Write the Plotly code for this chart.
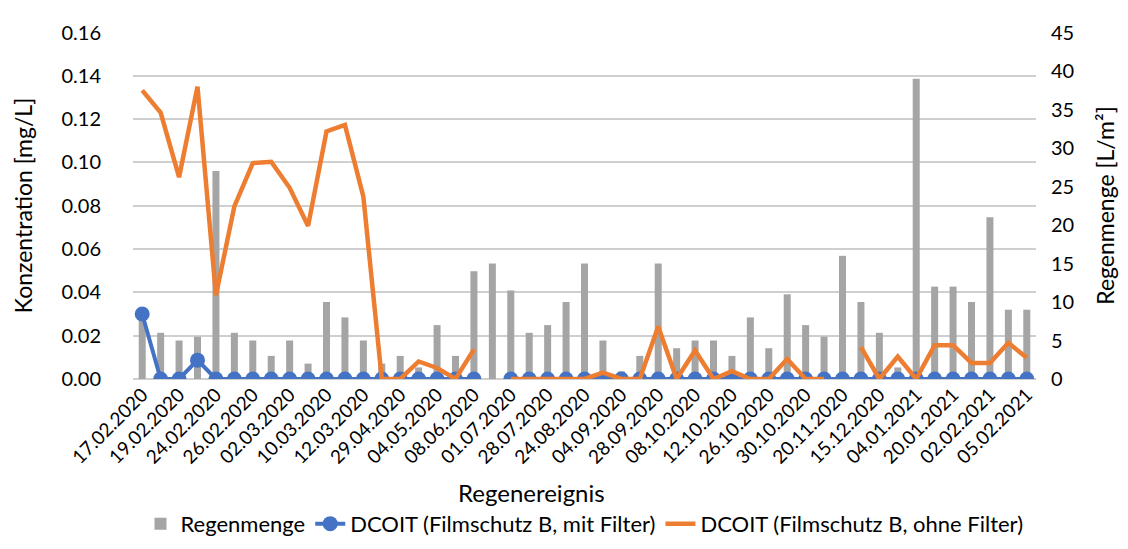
import plotly.graph_objects as go

# Category index (49 rain events); only every second event is labelled on the axis
event_index = list(range(49))
tick_index = list(range(0, 49, 2))
tick_labels = ["17.02.2020", "19.02.2020", "24.02.2020", "26.02.2020", "02.03.2020",
               "10.03.2020", "12.03.2020", "29.04.2020", "04.05.2020", "08.06.2020",
               "01.07.2020", "28.07.2020", "24.08.2020", "04.09.2020", "28.09.2020",
               "08.10.2020", "12.10.2020", "26.10.2020", "30.10.2020", "20.11.2020",
               "15.12.2020", "04.01.2021", "20.01.2021", "02.02.2021", "05.02.2021"]

regenmenge = [8, 6, 5, 5.5, 27, 6, 5, 3, 5, 2,
              10, 8, 5, 2, 3, 1.5, 7, 3, 14, 15,
              11.5, 6, 7, 10, 15, 5, 1, 3, 15, 4,
              5, 5, 3, 8, 4, 11, 7, 5.5, 16, 10,
              6, 1.5, 39, 12, 12, 10, 21, 9, 9]

dcoit_mit = [0.030, 0, 0, 0.0087, 0, 0, 0, 0, 0, 0,
             0, 0, 0, 0, 0, 0, 0, 0, 0, None,
             0, 0, 0, 0, 0, 0, 0, 0, 0, 0,
             0, 0, 0, 0, 0, 0, 0, 0, 0, 0,
             0, 0, 0, 0, 0, 0, 0, 0, 0]

dcoit_ohne = [0.1333, 0.1230, 0.0932, 0.1350, 0.0387, 0.0797, 0.0997, 0.1003, 0.0883, 0.0707,
              0.1143, 0.1173, 0.0842, 0, 0, 0.0081, 0.0051, 0, 0.0137, None,
              0, 0, 0, 0, 0, 0.0029, 0, 0, 0.0242, 0,
              0.0132, 0, 0.0036, 0, 0, 0.0092, 0, 0, None, 0.0147,
              0, 0.0104, 0, 0.0156, 0.0156, 0.0074, 0.0074, 0.0167, 0.0098]

FONT = "Lato"
GRID = "#CFCFCF"
PAD = 1.0015  # tiny headroom so the top gridline (0.16 / 45) is drawn
CONC_RANGE = [0, 0.16 * PAD]
RAIN_RANGE = [0, 45 * PAD]

fig = go.Figure()

# Invisible carrier trace on the primary (left, gridded) concentration axis
fig.add_trace(go.Scatter(
    x=event_index, y=dcoit_mit, mode="lines", line=dict(width=0, color="rgba(0,0,0,0)"),
    showlegend=False, hoverinfo="skip", yaxis="y"))

# Bars on the right-hand rain axis (y2), drawn above the primary grid
fig.add_trace(go.Bar(
    x=event_index, y=regenmenge, name="Regenmenge",
    marker=dict(color="#A5A5A5", line=dict(width=0)),
    width=0.38, yaxis="y2"))

# Lines on a hidden concentration axis (y3) so they sit above the bars
fig.add_trace(go.Scatter(
    x=event_index, y=dcoit_mit, name="DCOIT (Filmschutz B, mit Filter)",
    mode="lines+markers", connectgaps=False,
    line=dict(color="#4472C4", width=4),
    marker=dict(color="#4472C4", size=15), yaxis="y3"))

fig.add_trace(go.Scatter(
    x=event_index, y=dcoit_ohne, name="DCOIT (Filmschutz B, ohne Filter)",
    mode="lines", connectgaps=False,
    line=dict(color="#ED7D31", width=4.5), yaxis="y3"))

fig.update_layout(
    width=1128, height=549,
    margin=dict(l=125, r=100, t=22, b=172),
    paper_bgcolor="white", plot_bgcolor="white",
    font=dict(family=FONT, size=20, color="#000000"),
    showlegend=True,
    legend=dict(orientation="h", x=0.5, xanchor="center", y=-0.478, yanchor="bottom",
                font=dict(size=22), traceorder="normal"),
    xaxis=dict(range=[-0.5, 48.5], tickmode="array", tickvals=tick_index,
               ticktext=tick_labels, tickangle=-45, showgrid=False, zeroline=False,
               showline=False, ticks="", tickfont=dict(size=19)),
    yaxis=dict(range=CONC_RANGE, dtick=0.02, tickformat=".2f", side="left",
               showgrid=True, gridcolor=GRID, gridwidth=2,
               zeroline=True, zerolinecolor=GRID, zerolinewidth=2,
               showline=False, ticks="", tickfont=dict(size=20),
               ticklabelstandoff=31,
               title=dict(text="Konzentration [mg/L]", font=dict(size=23), standoff=22)),
    yaxis2=dict(range=RAIN_RANGE, dtick=5, side="right", overlaying="y", showgrid=False,
                zeroline=False, showline=False, ticks="", tickfont=dict(size=20),
                ticklabelstandoff=14,
                title=dict(text="Regenmenge [L/m²]", font=dict(size=23), standoff=24)),
    yaxis3=dict(range=CONC_RANGE, overlaying="y", visible=False, showgrid=False,
                zeroline=False),
    annotations=[dict(text="Regenereignis", xref="paper", yref="paper",
                      x=0.441, y=-0.327, xanchor="center", yanchor="middle",
                      showarrow=False, font=dict(size=24))],
)

fig.write_html("out.html")
